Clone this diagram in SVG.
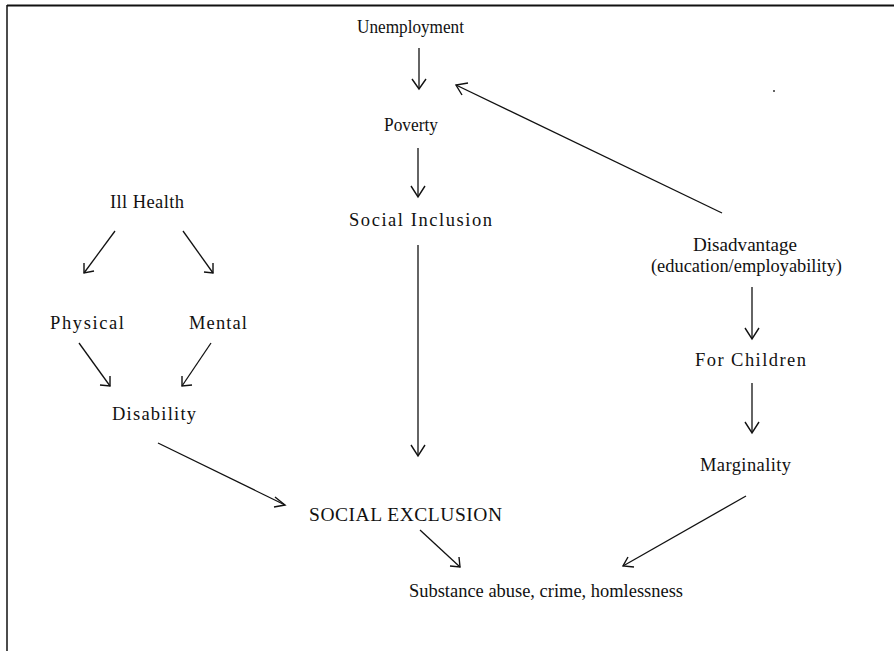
<svg xmlns="http://www.w3.org/2000/svg" width="894" height="651" viewBox="0 0 894 651">
<defs>
<style>
text{font-family:"Liberation Serif","Times New Roman",serif;font-size:18.5px;fill:#111}
.big{font-size:19.5px}
.c line{stroke:#111;stroke-width:1.3;fill:none}
.c path{stroke:#111;stroke-width:1.4;fill:none}
</style>
</defs>
<rect width="894" height="651" fill="#fff"/>
<g id="frame" stroke="#111" fill="none">
<line x1="7" y1="5.5" x2="894" y2="5.5" stroke-width="1.8"/>
<line x1="7" y1="5" x2="7" y2="651" stroke-width="1.5"/>
</g>
<g id="unemployment"><text x="357" y="33" textLength="107" lengthAdjust="spacingAndGlyphs">Unemployment</text></g>
<g id="poverty"><text x="384" y="131" textLength="54" lengthAdjust="spacingAndGlyphs">Poverty</text></g>
<g id="social-inclusion"><text x="349" y="226" textLength="143" lengthAdjust="spacing">Social Inclusion</text></g>
<g id="social-exclusion"><text class="big" x="309" y="521" textLength="193" lengthAdjust="spacing">SOCIAL EXCLUSION</text></g>
<g id="ill-health"><text x="110" y="208" textLength="74" lengthAdjust="spacing">Ill Health</text></g>
<g id="physical"><text x="50" y="329" textLength="74" lengthAdjust="spacing">Physical</text></g>
<g id="mental"><text x="189" y="329" textLength="58" lengthAdjust="spacing">Mental</text></g>
<g id="disability"><text x="112" y="420" textLength="84" lengthAdjust="spacing">Disability</text></g>
<g id="disadvantage"><text x="693" y="251" textLength="104" lengthAdjust="spacingAndGlyphs">Disadvantage</text><text x="651" y="272" textLength="191" lengthAdjust="spacingAndGlyphs">(education/employability)</text></g>
<g id="for-children"><text x="695" y="366" textLength="111" lengthAdjust="spacing">For Children</text></g>
<g id="marginality"><text x="700" y="471" textLength="91" lengthAdjust="spacing">Marginality</text></g>
<g id="substance"><text x="409" y="597" textLength="274" lengthAdjust="spacingAndGlyphs">Substance abuse, crime, homlessness</text></g>
<g class="c" id="connectors">
<line x1="419" y1="48" x2="419" y2="88"/><path d="M412,79 L419,89 L426,79"/>
<line x1="418" y1="148" x2="418" y2="196"/><path d="M411,186 L418,197 L425,186"/>
<line x1="418" y1="245" x2="418" y2="455"/><path d="M411,445 L418,456 L425,445"/>
<line x1="722" y1="213" x2="456" y2="85"/><path d="M468,83 L456,85 L462,95"/>
<line x1="115" y1="231" x2="84" y2="273"/><path d="M84,263 L84,273 L94,271"/>
<line x1="183" y1="231" x2="213" y2="273"/><path d="M213,263 L213,273 L204,272"/>
<line x1="79" y1="343" x2="110" y2="386"/><path d="M110,376 L110,386 L100,385"/>
<line x1="211" y1="343" x2="182" y2="386"/><path d="M182,376 L182,386 L192,385"/>
<line x1="158" y1="443" x2="285" y2="505"/><path d="M275,497 L285,505 L274,507"/>
<line x1="420" y1="530" x2="460" y2="567"/><path d="M459,557 L460,567 L450,566"/>
<line x1="746" y1="496" x2="623" y2="566"/><path d="M628,557 L623,566 L634,567"/>
<line x1="752" y1="287" x2="752" y2="338"/><path d="M745,328 L752,339 L759,328"/>
<line x1="752" y1="383" x2="752" y2="432"/><path d="M745,422 L752,433 L759,422"/>
</g>
<circle cx="774" cy="91" r="1" fill="#333"/>
</svg>
